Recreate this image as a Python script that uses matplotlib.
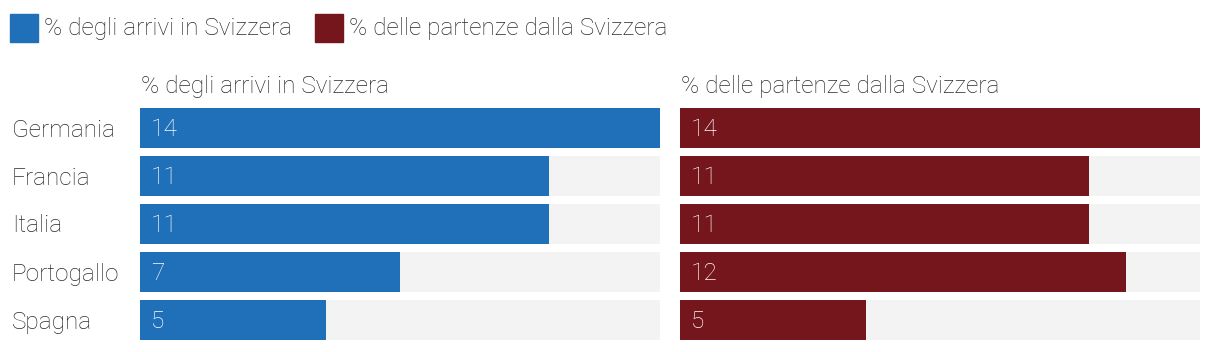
import matplotlib
matplotlib.use("Agg")
import matplotlib.pyplot as plt
from matplotlib.patches import Rectangle

categories = ["Germania", "Francia", "Italia", "Portogallo", "Spagna"]
arrivi = [14, 11, 11, 7, 5]
partenze = [14, 11, 11, 12, 5]
series_names = ["% degli arrivi in Svizzera", "% delle partenze dalla Svizzera"]
colors = ["#1F70B9", "#75151C"]
max_val = 14

plt.rcParams['font.family'] = ['Roboto', 'DejaVu Sans']
FS = 17.6
TXT = "#2b2b2b"

W, H = 1220, 352
fig = plt.figure(figsize=(W/100, H/100), dpi=100)

def fx(px): return px / W
def fy(py): return 1 - py / H

panels = [(140, arrivi, colors[0], series_names[0]), (680, partenze, colors[1], series_names[1])]
for x0, vals, col, title in panels:
    ax = fig.add_axes([fx(x0), fy(344), 520 / W, 240 / H])
    y = list(range(len(categories)))
    ax.barh(y, [max_val]*len(y), height=40/48, color="#F3F3F3", left=0)
    ax.barh(y, vals, height=40/48, color=col)
    for yi, v in zip(y, vals):
        ax.text(0.3, yi + 0.04, str(v), color="white", fontsize=FS, va="center", ha="left", fontweight="light")
    ax.set_xlim(0, max_val)
    ax.set_ylim(len(y) - 0.5, -0.5)
    ax.axis("off")
    fig.text(fx(x0 + 1), fy(87), title, fontsize=FS, color=TXT, va="center", ha="left", fontweight="light")

for i, c in enumerate(categories):
    fig.text(fx(12), fy(130 + 48 * i), c, fontsize=FS, color=TXT, va="center", ha="left", fontweight="light")

# legend
lx = [10, 315]
for x, col, name in zip(lx, colors, series_names):
    fig.patches.append(Rectangle((fx(x), fy(42)), 28 / W, 28 / H, transform=fig.transFigure, color=col))
    fig.text(fx(x + 34), fy(29), name, fontsize=FS, color=TXT, va="center", ha="left", fontweight="light")

fig.savefig("out.png", dpi=100)
